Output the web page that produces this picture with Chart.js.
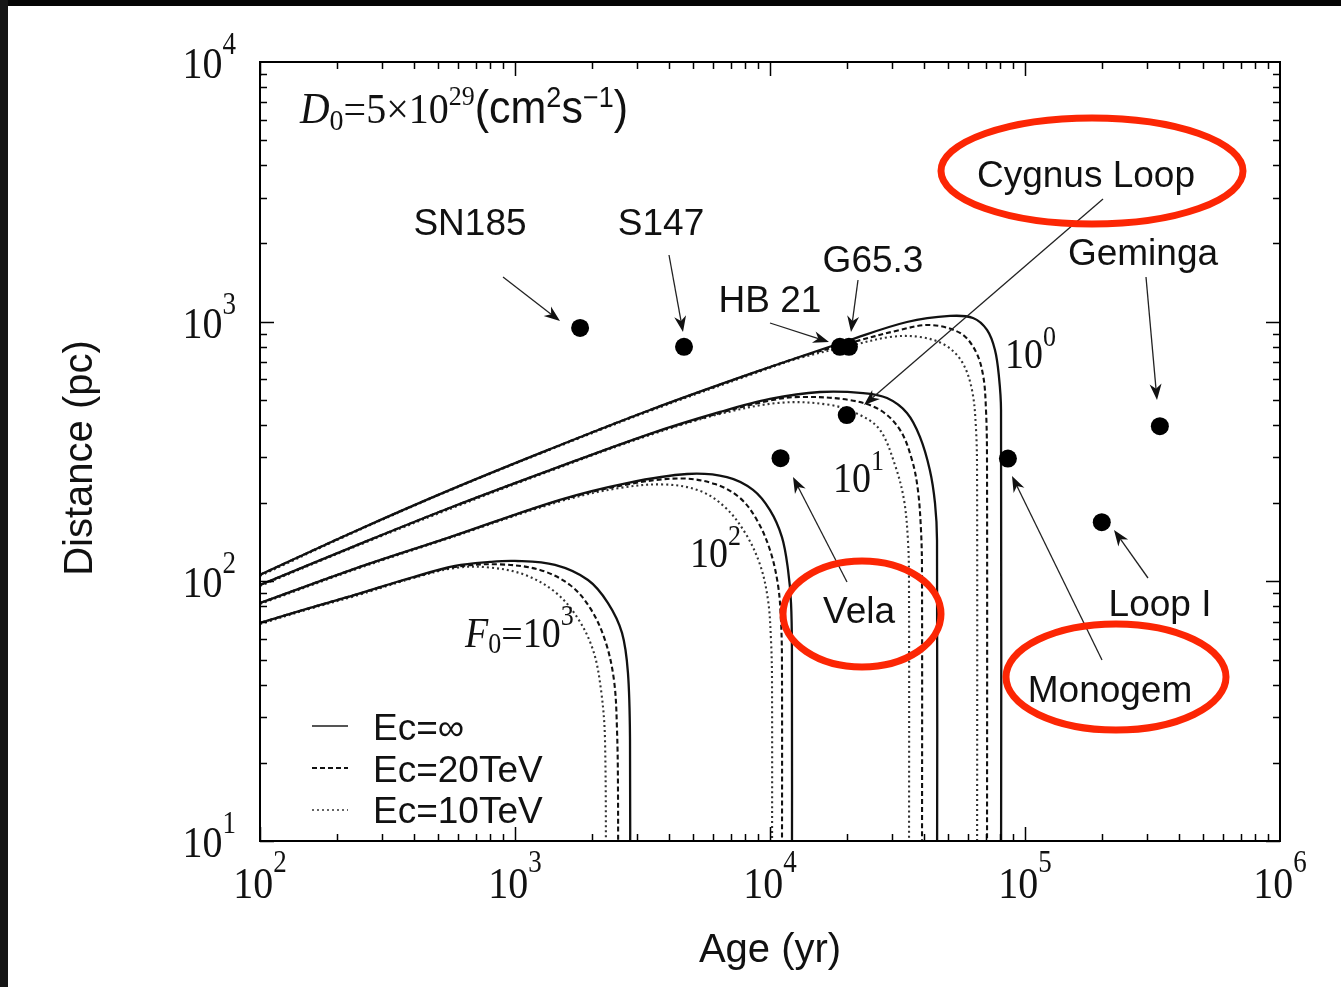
<!DOCTYPE html>
<html>
<head>
<meta charset="utf-8">
<script src="https://cdn.jsdelivr.net/npm/chart.js@4.4.1/dist/chart.umd.min.js"></script>
<style>
  html, body { margin: 0; padding: 0; background: #fff; }
  #wrap { position: relative; width: 1341px; height: 987px; }
  canvas { display: block; }
</style>
</head>
<body>
<div id="wrap"><canvas id="c" width="1341" height="987"></canvas></div>
<script>
// ---------------- data ----------------
const xTickValues = [1e2, 1e3, 1e4, 1e5, 1e6];
const xTickExps   = ['2', '3', '4', '5', '6'];
const yTickValues = [1e1, 1e2, 1e3, 1e4];
const yTickExps   = ['1', '2', '3', '4'];

const sourceNames = ['SN185', 'S147', 'HB 21', 'G65.3', 'Cygnus Loop', 'Vela', 'Monogem', 'Geminga', 'Loop I'];
const sourceAges  = [1800, 4600, 18800, 20400, 20000, 11000, 85700, 338000, 200000];
const sourceDists = [946, 800, 800, 800, 437, 298, 297, 396, 169];

// F0 = 10^0   [age (yr), distance (pc)]
const f0Inf  = [[100,106],[236,156],[556,225],[1371,323],[3383,457],[8350,629],[20590,850],[34440,997],[50780,1052],[62530,1033],[70960,929],[76250,778],[79070,612],[80530,457],[80530,5]];
const f0E20  = [[100,106],[236,156],[556,225],[1371,323],[3383,457],[8350,629],[13110,731],[20590,828],[32350,929],[42360,971],[55590,905],[63680,778],[68450,624],[70310,457],[70960,293],[70960,5]];
const f0E10  = [[100,105],[236,155],[556,224],[1371,321],[3383,453],[8350,623],[13110,725],[20590,806],[29560,873],[38730,873],[48530,813],[56620,700],[61950,546],[64280,383],[64870,246],[64870,5]];
// F0 = 10^1
const f1Inf  = [[100,96.8],[236,137],[556,192],[1371,268],[3383,370],[6368,449],[10000,504],[15700,536],[23170,531],[28770,508],[34440,445],[38730,360],[42360,268],[44370,200],[45180,144],[45180,5]];
const f1E20  = [[100,96.8],[236,137],[556,192],[1371,268],[3383,369],[6368,445],[10000,497],[13110,513],[20590,499],[26990,457],[32350,383],[36060,293],[38020,225],[39090,158],[39450,111],[39450,5]];
const f1E10  = [[100,96],[236,136],[556,190],[1371,266],[3383,366],[6368,441],[10940,487],[17180,478],[22540,437],[26990,383],[30900,281],[33530,206],[34750,144],[35080,101],[35080,5]];
// F0 = 10^2
const f2Inf  = [[100,82.5],[236,112],[556,148],[1500,206],[2749,239],[4727,259],[6777,252],[8578,225],[10000,188],[11140,148],[11766,111],[12090,82.5],[12190,54.4],[12190,5]];
const f2E20  = [[100,82.5],[236,112],[556,148],[1500,205],[2749,236],[4436,249],[6083,237],[7623,209.5],[8892,172],[10000,132],[10750,96.8],[11040,71],[11140,49.8],[11140,5]];
const f2E10  = [[100,81.8],[236,111],[556,147],[1500,203],[2582,229],[3873,236],[5315,223],[6660,193],[7980,154],[9138,116],[9821,84.8],[10090,59.4],[10183,41.7],[10183,5]];
// F0 = 10^3
const f3Inf  = [[100,69.2],[157,79],[236,88.7],[387,103],[582,114.6],[798,118.8],[1000,119.9],[1435,115.7],[1933,101.2],[2316,82.5],[2628,63.3],[2773,44.4],[2825,24.5],[2825,5]];
const f3E20  = [[100,69.2],[157,79],[236,88.7],[387,102.5],[582,113.6],[873,116.2],[1253,110.6],[1643,96.8],[1969,79],[2254,59.4],[2444,41.7],[2512,26.8],[2535,15],[2535,5]];
const f3E10  = [[100,68.5],[157,78.4],[236,87.8],[387,102],[582,112.6],[798,113],[1094,105.9],[1435,91],[1750,72.9],[2023,54.4],[2174,38.2],[2254,24.5],[2274,5]];

const legendLabels = ['Ec=\u221E', 'Ec=20TeV', 'Ec=10TeV'];

// ---------------- styling ----------------
const SERIF = '"Liberation Serif", "Times New Roman", serif';
const SANS  = '"Liberation Sans", Arial, Helvetica, sans-serif';
const RED = 'rgb(252,38,4)';
const SY = 1.13; // vertical stretch of serif labels

const styleInf = { borderColor: '#111', borderWidth: 2.3, borderDash: [] };
const styleE20 = { borderColor: '#111', borderWidth: 2.1, borderDash: [5, 3] };
const styleE10 = { borderColor: '#333', borderWidth: 2.1, borderDash: [2, 3] };

function curve(label, pts, st) {
  return Object.assign({
    label: label,
    data: pts.map(p => ({ x: p[0], y: p[1] })),
    showLine: true, pointRadius: 0, pointHoverRadius: 0,
    tension: 0.35, fill: false
  }, st);
}

const datasets = [
  {
    label: 'SNRs',
    data: sourceAges.map((a, i) => ({ x: a, y: sourceDists[i] })),
    showLine: false, pointRadius: 9, pointHoverRadius: 9,
    backgroundColor: '#000', borderColor: '#000', borderWidth: 0
  },
  curve('F0=1 Ec=inf', f0Inf, styleInf), curve('F0=1 Ec=20TeV', f0E20, styleE20), curve('F0=1 Ec=10TeV', f0E10, styleE10),
  curve('F0=10 Ec=inf', f1Inf, styleInf), curve('F0=10 Ec=20TeV', f1E20, styleE20), curve('F0=10 Ec=10TeV', f1E10, styleE10),
  curve('F0=100 Ec=inf', f2Inf, styleInf), curve('F0=100 Ec=20TeV', f2E20, styleE20), curve('F0=100 Ec=10TeV', f2E10, styleE10),
  curve('F0=1000 Ec=inf', f3Inf, styleInf), curve('F0=1000 Ec=20TeV', f3E20, styleE20), curve('F0=1000 Ec=10TeV', f3E10, styleE10)
];

// ---------------- helpers ----------------
function rich(ctx, x, y, parts, align, sy) {
  sy = sy || 1;
  let w = 0;
  parts.forEach(p => { ctx.font = p[1]; p.w = ctx.measureText(p[0]).width; w += p.w; });
  let sx = align === 'center' ? x - w / 2 : (align === 'right' ? x - w : x);
  ctx.save();
  ctx.translate(0, y); ctx.scale(1, sy);
  parts.forEach(p => { ctx.font = p[1]; ctx.fillText(p[0], sx, (p[2] || 0) / sy); sx += p.w; });
  ctx.restore();
}
function arrow(ctx, x1, y1, x2, y2) {
  const a = Math.atan2(y2 - y1, x2 - x1), L = 16, H = 6;
  ctx.beginPath(); ctx.moveTo(x1, y1); ctx.lineTo(x2 - L * 0.7 * Math.cos(a), y2 - L * 0.7 * Math.sin(a)); ctx.stroke();
  ctx.beginPath();
  ctx.moveTo(x2, y2);
  ctx.lineTo(x2 - L * Math.cos(a) + H * Math.sin(a), y2 - L * Math.sin(a) - H * Math.cos(a));
  ctx.lineTo(x2 - L * 0.7 * Math.cos(a), y2 - L * 0.7 * Math.sin(a));
  ctx.lineTo(x2 - L * Math.cos(a) - H * Math.sin(a), y2 - L * Math.sin(a) + H * Math.cos(a));
  ctx.closePath(); ctx.fill();
}
function ellipse(ctx, cx, cy, rx, ry) {
  ctx.beginPath(); ctx.ellipse(cx, cy, rx, ry, 0, 0, Math.PI * 2); ctx.stroke();
}

const decor = {
  id: 'decor',
  beforeDraw(chart) {
    const ctx = chart.ctx;
    ctx.save();
    ctx.fillStyle = '#fff'; ctx.fillRect(0, 0, chart.width, chart.height);
    ctx.fillStyle = '#050505'; ctx.fillRect(0, 0, chart.width, 6);
    ctx.fillStyle = '#151515'; ctx.fillRect(0, 0, 8, chart.height);
    ctx.restore();
  },
  afterDraw(chart) {
    const ctx = chart.ctx, xs = chart.scales.x, ys = chart.scales.y, ca = chart.chartArea;
    ctx.save();
    // frame
    ctx.strokeStyle = '#000'; ctx.lineWidth = 2;
    ctx.strokeRect(ca.left, ca.top, ca.right - ca.left, ca.bottom - ca.top);
    // ticks (inward on all sides)
    ctx.lineWidth = 1.5;
    ctx.beginPath();
    for (let d = 2; d <= 5; d++) for (let m = 1; m <= 9; m++) {
      const px = Math.round(xs.getPixelForValue(m * Math.pow(10, d))) + 0.5;
      const len = m === 1 ? 14 : 7;
      ctx.moveTo(px, ca.bottom); ctx.lineTo(px, ca.bottom - len);
      ctx.moveTo(px, ca.top); ctx.lineTo(px, ca.top + len);
    }
    for (let d = 1; d <= 3; d++) for (let m = 1; m <= 9; m++) {
      const py = Math.round(ys.getPixelForValue(m * Math.pow(10, d))) + 0.5;
      const len = m === 1 ? 14 : 7;
      ctx.moveTo(ca.left, py); ctx.lineTo(ca.left + len, py);
      ctx.moveTo(ca.right, py); ctx.lineTo(ca.right - len, py);
    }
    ctx.stroke();

    ctx.fillStyle = '#111';
    ctx.textBaseline = 'alphabetic';
    // tick labels
    xTickValues.forEach((v, i) => {
      const px = xs.getPixelForValue(v);
      rich(ctx, px, 898, [['10', '40px ' + SERIF], [xTickExps[i], '27px ' + SERIF, -26]], 'center', SY);
    });
    yTickValues.forEach((v, i) => {
      const py = ys.getPixelForValue(v);
      rich(ctx, 236, py + 16, [['10', '40px ' + SERIF], [yTickExps[i], '27px ' + SERIF, -24]], 'right', SY);
    });
    // axis titles
    ctx.font = '40px ' + SANS; ctx.textAlign = 'center';
    ctx.fillText('Age (yr)', 770, 962);
    ctx.save(); ctx.translate(92, 458); ctx.rotate(-Math.PI / 2);
    ctx.fillText('Distance (pc)', 0, 0); ctx.restore();
    ctx.textAlign = 'left';

    // D0 label
    rich(ctx, 300, 123, [
      ['D', 'italic 41px ' + SERIF], ['0', '28px ' + SERIF, 7], ['=5\u00D710', '40px ' + SERIF],
      ['29', '26px ' + SERIF, -18], ['(cm', '43px ' + SANS], ['2', '27px ' + SANS, -16],
      ['s', '43px ' + SANS], ['\u22121', '27px ' + SANS, -16], [')', '43px ' + SANS]
    ], 'left', 1.06);
    // F0 labels
    rich(ctx, 1005, 368, [['10', '38px ' + SERIF], ['0', '26px ' + SERIF, -22]], 'left', SY);
    rich(ctx, 833, 492, [['10', '38px ' + SERIF], ['1', '26px ' + SERIF, -22]], 'left', SY);
    rich(ctx, 690, 567, [['10', '38px ' + SERIF], ['2', '26px ' + SERIF, -22]], 'left', SY);
    rich(ctx, 465, 647, [['F', 'italic 38px ' + SERIF], ['0', '26px ' + SERIF, 6], ['=10', '38px ' + SERIF], ['3', '26px ' + SERIF, -22]], 'left', SY);

    // source names
    ctx.font = '37px ' + SANS; ctx.textAlign = 'center';
    const lbl = [['SN185', 470, 235], ['S147', 661, 235], ['G65.3', 873, 272], ['HB 21', 770, 312],
                 ['Cygnus Loop', 1086, 187], ['Geminga', 1143, 265], ['Vela', 859, 623], ['Loop I', 1160, 616], ['Monogem', 1110, 702]];
    lbl.forEach(l => ctx.fillText(l[0], l[1], l[2]));
    ctx.textAlign = 'left';

    // arrows
    ctx.strokeStyle = '#222'; ctx.fillStyle = '#111'; ctx.lineWidth = 1.3;
    arrow(ctx, 503, 277, 560, 321);
    arrow(ctx, 669, 255, 683, 332);
    arrow(ctx, 770, 323, 829, 342);
    arrow(ctx, 858, 280, 851, 332);
    arrow(ctx, 1103, 199, 864, 405);
    arrow(ctx, 1146, 277, 1157, 400);
    arrow(ctx, 847, 582, 793, 477);
    arrow(ctx, 1102, 660, 1012, 476);
    arrow(ctx, 1148, 578, 1114, 530);

    // legend
    ctx.lineWidth = 2;
    ctx.strokeStyle = '#555'; ctx.setLineDash([]);
    ctx.beginPath(); ctx.moveTo(312, 726); ctx.lineTo(348, 726); ctx.stroke();
    ctx.strokeStyle = '#111'; ctx.setLineDash([5, 3]);
    ctx.beginPath(); ctx.moveTo(312, 768); ctx.lineTo(348, 768); ctx.stroke();
    ctx.strokeStyle = '#666'; ctx.setLineDash([2, 3]);
    ctx.beginPath(); ctx.moveTo(312, 810); ctx.lineTo(348, 810); ctx.stroke();
    ctx.setLineDash([]);
    ctx.fillStyle = '#111'; ctx.font = '37px ' + SANS;
    ctx.fillText(legendLabels[0], 373, 740);
    ctx.fillText(legendLabels[1], 373, 782);
    ctx.fillText(legendLabels[2], 373, 823);

    // red highlight ellipses
    ctx.strokeStyle = RED; ctx.lineWidth = 7;
    ellipse(ctx, 1092, 171, 151, 53);
    ellipse(ctx, 862, 614, 79, 53);
    ellipse(ctx, 1116, 677, 110, 53);
    ctx.restore();
  }
};

new Chart(document.getElementById('c'), {
  type: 'scatter',
  data: { datasets: datasets },
  options: {
    responsive: false, animation: false, devicePixelRatio: 1,
    layout: { padding: { left: 0, top: 62, right: 61, bottom: 0 } },
    plugins: { legend: { display: false }, tooltip: { enabled: false }, title: { display: false } },
    scales: {
      x: {
        type: 'logarithmic', min: 1e2, max: 1e6,
        ticks: { display: false }, grid: { display: false }, border: { display: false },
        afterFit(s) { s.height = 146; }
      },
      y: {
        type: 'logarithmic', min: 1e1, max: 1e4,
        ticks: { display: false }, grid: { display: false }, border: { display: false },
        afterFit(s) { s.width = 260; }
      }
    }
  },
  plugins: [decor]
});
</script>
</body>
</html>
